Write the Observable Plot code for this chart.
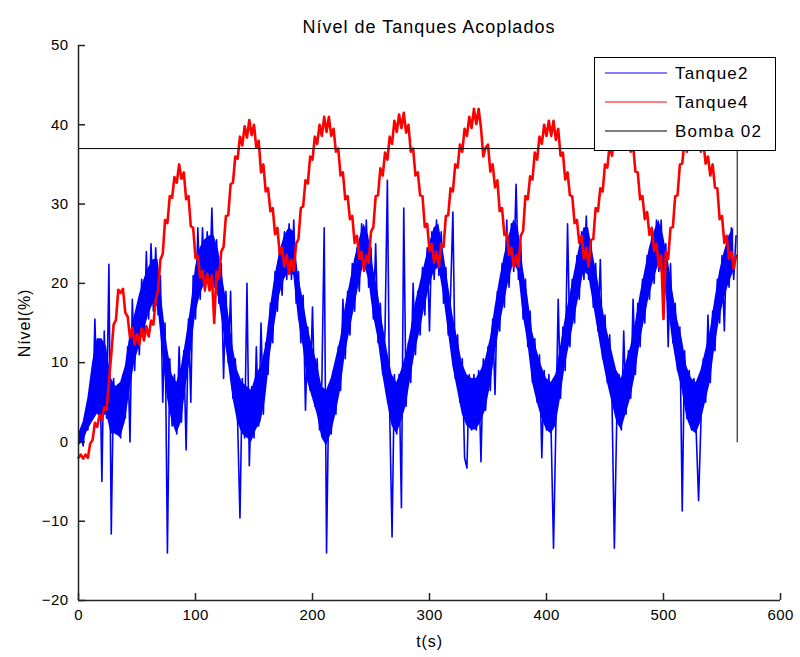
<!DOCTYPE html>
<html>
<head>
<meta charset="utf-8">
<script src="https://cdn.jsdelivr.net/npm/d3@7"></script>
<script src="https://cdn.jsdelivr.net/npm/@observablehq/plot@0.6"></script>
<style>
  body { margin: 0; background: #fff; width: 800px; height: 657px; position: relative; overflow: hidden; }
  #titulo { height: 35px; box-sizing: border-box; padding-top: 17px; padding-left: 78px; width: 780px;
            text-align: center; font: 18px "Liberation Sans", Arial, sans-serif; letter-spacing: 1px; line-height: 20px; color: #000; }
  #legenda { position: absolute; left: 594px; top: 57px; }
</style>
</head>
<body>
<div id="titulo">Nível de Tanques Acoplados</div>
<div id="grafico"></div>
<svg id="legenda" width="182" height="94"></svg>
<script>
// Sampling interval of the recorded series (seconds)
const passo = 2;

// Level of tank 2 (%), one sample every 2 s from t = 0
const tanque2 = [
  0, 1, -0.5, 3, 1.5, 7, 3, 15.5, 5, 12,
  -5, 14, 3, 22.4, -11.6, 8, 1, 7, 0.5, 8.5,
  3, 12, 0, 18, 9, 17, 11, 20.5, 13, 24,
  15.5, 25, 16.5, 24.5, 16, 21, 5, 15, -14, 10.5,
  2, 8.5, 1, 12, 2.5, 11.5, -1, 15.5, 5, 21,
  15.5, 27, 18, 27, 19, 26.5, 19.5, 29.5, 19.5, 25.5,
  17.5, 22.5, 8, 19, 10, 19, 5.5, 10.5, 2.5, -9.6,
  8, 0.5, 20, -3, 7, 0.5, 12, 2, 15, 3.5,
  12.5, 8.5, 17.5, 12.5, 21.5, 16.5, 24.5, 18.5, 26.5, 20.5,
  27.5, 20.5, 28, 17.5, 21.5, 12.5, 18.5, 4, 14.5, 6.5,
  17, 4.5, 10.5, 1.5, 7.5, 27, -14, 7, 1, 9,
  3.5, 12, 6.5, 18, 10.5, 19, 13.5, 22.5, 16.5, 24.5,
  19, 27.5, 21.5, 28, 19.5, 24.5, 15.5, 25, 12.5, 17.5,
  8.5, 14, 33, 3.5, -12, 8.5, 1, 8.5, -8.3, 29.5,
  4.5, 12.5, 7.5, 20, 11, 19, 13.5, 22, 16, 24.5,
  14, 26.5, 20.5, 28, 21, 26.5, 17.5, 22, 13.5, 18.5,
  29, 8, 13.5, 5, 10.5, -2, -3.3, 8.5, 1.5, 8.5,
  1.5, 9, -2.5, 10.5, 4, 12, 6.5, 15.5, 6, 19,
  14, 22.5, 17, 28, 19.5, 27.5, 21.5, 32.5, 20.5, 25,
  15.5, 20.5, 12, 16.5, 7.5, 13, 5, 11, -2, 9,
  1.5, 8.5, 1, -13.4, 2, 18, 5.5, 14.5, 9, 27.5,
  12, 20.5, 15, 23.5, 18, 26.5, 20.5, 28.5, 20.5, 25.5,
  17, 22.5, 14, 23, 10.5, 16, 7.5, 13.5, 5, -13.4,
  2.5, 8.5, 1.5, 14, 3.5, 11.5, 5.5, 18, 8.5, 17.5,
  12, 20.5, 15, 23.5, 18, 26, 20, 28, 21.5, 28,
  19.5, 25, 12, 22.5, 12.5, 17.5, 9, 14.5, -8.7, 11.5,
  3, 9, 1.5, 8, 1, -7.4, 2.5, 10.5, 5, 16,
  7.5, 16.5, 11.5, 20.5, 15, 23.5, 14, 25.5, 19.5, 27,
  20.5, 26
];

// Dense core of the tank 2 trace: lower and upper edge every 4 s
const passoNucleo = 4;
const tanque2Min = [
  -0.5, 0, 1.5, 2.5, 3.5, 3, 3.5, 1, 1, 0.5,
  2.5, 6.5, 10, 12, 14, 16, 17.5, 17, 11, 5.5,
  2.5, 1, 2.5, 7, 11, 16, 18.5, 20, 20.5, 20,
  18, 14, 10, 5.5, 2.5, 1, 0.5, 0, 1.5, 2.5,
  5.5, 11, 15, 18.5, 20.5, 21.5, 21, 15.5, 12, 7.5,
  5.5, 3.5, 0.5, -0.5, 1, 3.5, 6.5, 11, 14, 17,
  20, 22.5, 20.5, 16, 13, 8.5, 5, 2, 1, 2.5,
  4.5, 8, 11.5, 14, 17, 19.5, 21.5, 22, 18.5, 14,
  9.5, 6.5, 3.5, 2, 1.5, 1.5, 2.5, 4, 7, 11,
  14.5, 17.5, 20.5, 22.5, 21.5, 16, 12.5, 7.5, 5, 3,
  1.5, 1, 2, 5.5, 9.5, 12.5, 15.5, 18.5, 21.5, 21,
  17.5, 14, 10.5, 7.5, 5, 2.5, 1.5, 3.5, 5.5, 8.5,
  12.5, 15.5, 18.5, 20.5, 22.5, 20.5, 17, 12.5, 9, 6.5,
  3, 1.5, 1, 2.5, 5, 7.5, 12, 15.5, 18, 20,
  21.5
];
const tanque2Max = [
  1, 2.5, 5.5, 10, 13, 13, 12, 8, 7, 7.5,
  9.5, 13.5, 16, 18.5, 20.5, 22, 23, 23, 17, 12,
  8.5, 7.5, 9.5, 13, 17, 22, 24.5, 25.5, 26, 26,
  24, 20, 16.5, 12, 9, 7.5, 7, 6.5, 8.5, 9.5,
  12, 17, 21, 24, 26, 27, 26.5, 21, 18, 14.5,
  12, 10, 7, 6.5, 8, 10.5, 13, 17, 20, 23,
  25.5, 27.5, 26, 22, 19, 15, 11.5, 8.5, 7.5, 9,
  11, 14, 17.5, 20, 22.5, 25, 27, 27.5, 24, 20,
  16, 13, 10, 8.5, 8, 8, 9, 10.5, 13, 17,
  20.5, 23.5, 26, 28, 27, 22, 18.5, 14, 11.5, 9.5,
  8, 7.5, 8.5, 12, 15.5, 18.5, 21.5, 24.5, 27, 27,
  23.5, 20.5, 17, 14, 11.5, 9, 8, 10, 12, 15,
  18.5, 21.5, 24.5, 26.5, 28, 26, 23, 19, 15.5, 13,
  9.5, 8, 7.5, 9, 11.5, 14, 18, 21.5, 24, 26,
  27
];

// Level of tank 4 (%), one sample every 2 s
const tanque4 = [
  -2, -1.6, -2.1, -1.6, -2, -0.2, 0.2, 2.4, 1.9, 3.4,
  2.8, 4.4, 4, 7.6, 11, 14.8, 15.4, 19.2, 18.8, 19.3,
  16.3, 15.8, 13.2, 14.4, 12.3, 13.6, 12.3, 14.3, 12.8, 14.6,
  13.3, 15.3, 14.8, 17.9, 19.2, 23, 23.7, 28, 27.6, 31,
  30.8, 33.4, 32.7, 35, 33.2, 34, 30.6, 31, 27.2, 27,
  23.2, 23.5, 20.7, 21.6, 19.2, 21.2, 19.1, 21, 15, 21.5,
  20.6, 24, 24.6, 28.5, 28.6, 32.5, 32.7, 36, 35.7, 38.5,
  37.4, 39.8, 38.4, 40.6, 38.7, 40, 37.1, 38, 34, 35,
  31.6, 32, 29.1, 29.5, 26.2, 27, 23.7, 24.5, 22.1, 23.6,
  21.2, 23, 21.6, 25, 25.6, 29.5, 29.7, 33, 32.6, 36,
  35.6, 38.5, 37.6, 40, 38.6, 41, 39.1, 41, 38.6, 39.5,
  36.6, 37, 33.6, 34, 30.6, 31, 28.1, 28.5, 25.1, 26,
  23.1, 24, 21.6, 23.5, 22.6, 26.5, 27.1, 31, 31.1, 34.5,
  33.6, 36.5, 35.6, 38.5, 37.6, 40.5, 39.1, 41.3, 39.6, 41.5,
  39, 40, 36.6, 37, 33.6, 34, 31.1, 31, 27.1, 27.5,
  24.1, 25, 22.6, 24, 22.1, 25, 24.6, 28.5, 28.6, 32,
  31.6, 35, 34.6, 37.5, 36.6, 39.5, 38.6, 41, 39.6, 42,
  40.1, 42, 39.6, 36, 37.1, 37.5, 34.1, 35, 32.1, 33,
  29.1, 29.5, 26.1, 26.5, 23.6, 24.5, 22.1, 23.5, 22.1, 26,
  26.6, 31, 30.6, 33.5, 33.1, 36.5, 35.6, 38.5, 37.6, 40,
  38.6, 40.5, 38.6, 40.5, 38.1, 39.5, 36.1, 36.5, 33.1, 34,
  31.1, 31, 27.6, 28, 25.1, 26, 23.1, 24.5, 22.1, 25.5,
  25.6, 29.5, 29.1, 32, 31.6, 35, 34.6, 37.5, 36.1, 38.5,
  37.1, 39, 37.1, 39.2, 37.3, 39, 36.6, 37.5, 34.1, 34,
  30.6, 31, 28.1, 29, 26.1, 27, 24.1, 25, 22.1, 23.5,
  15.5, 24, 23.1, 27, 27.1, 31, 31.1, 35, 35.1, 38,
  36.6, 39, 37.6, 39.5, 37.6, 39, 36.6, 38, 35.1, 36,
  33.6, 35, 32.1, 32, 28.1, 28.5, 25.1, 26, 23.1, 24,
  21.8, 23.5
];

// Pump 02 command: held at 37 % and switched off at the end of the run
const bombaT = [0, 563, 563];
const bombaV = [37, 37, 0];

// Axis ticks and series names
const xTicks = [0, 100, 200, 300, 400, 500, 600];
const yTicks = [-20, -10, 0, 10, 20, 30, 40, 50];
const series = [
  {nome: "Tanque2", cor: "#0000ff"},
  {nome: "Tanque4", cor: "#ff0000"},
  {nome: "Bomba 02", cor: "#000000"}
];

const linhas2 = tanque2.map((v, i) => ({t: i * passo, v}));
const nucleo2 = tanque2Min.map((lo, i) => ({t: i * passoNucleo, lo, hi: tanque2Max[i]}));
const linhas4 = tanque4.map((v, i) => ({t: i * passo, v}));
const bomba = bombaT.map((t, i) => ({t, v: bombaV[i]}));

const fonte = '"Liberation Sans", Arial, sans-serif';
const W = 800, H = 622, mL = 78, mR = 20, mT = 10, mB = 57, tick = 7;
const xDom = [0, 600], yDom = [-20, 50];
// tick length expressed in data units of each axis
const tickX = tick * (yDom[1] - yDom[0]) / (H - mT - mB);
const tickY = tick * (xDom[1] - xDom[0]) / (W - mL - mR);
const corEixo = "#222";

const chart = Plot.plot({
  width: W,
  height: H,
  marginLeft: mL,
  marginRight: mR,
  marginTop: mT,
  marginBottom: mB,
  style: {fontFamily: fonte, fontSize: "15px", color: "#000", background: "#fff", overflow: "visible"},
  x: {domain: xDom},
  y: {domain: yDom},
  marks: [
    Plot.areaY(nucleo2, {x: "t", y1: "lo", y2: "hi", fill: series[0].cor}),
    Plot.lineY(linhas2, {x: "t", y: "v", stroke: series[0].cor, strokeWidth: 1.6}),
    Plot.lineY(linhas4, {x: "t", y: "v", stroke: series[1].cor, strokeWidth: 2.6}),
    Plot.line(bomba, {x: "t", y: "v", stroke: series[2].cor, strokeWidth: 1}),
    // axis lines
    Plot.ruleX([xDom[0]], {stroke: corEixo, strokeWidth: 1.5}),
    Plot.ruleY([yDom[0]], {stroke: corEixo, strokeWidth: 1.5}),
    // inward tick marks
    Plot.ruleX(xTicks, {x: d => d, y1: yDom[0], y2: yDom[0] + tickX, stroke: corEixo, strokeWidth: 1.5}),
    Plot.ruleY(yTicks, {y: d => d, x1: xDom[0], x2: xDom[0] + tickY, stroke: corEixo, strokeWidth: 1.5}),
    // tick labels and titles
    Plot.axisX({ticks: xTicks, tickSize: 0, tickPadding: 9, label: "t(s)", labelAnchor: "center", labelOffset: 46, labelArrow: "none"}),
    Plot.axisY({ticks: yTicks, tickSize: 0, tickPadding: 10, label: "Nível(%)", labelAnchor: "center", labelOffset: 60, labelArrow: "none"})
  ]
});
document.getElementById("grafico").appendChild(chart);

// Axis-label typography
chart.querySelectorAll('[aria-label="x-axis label"] text, [aria-label="y-axis label"] text').forEach(el => {
  el.style.fontSize = "16px";
  el.style.letterSpacing = "0.9px";
});
chart.querySelectorAll('[aria-label="x-axis tick label"] text, [aria-label="y-axis tick label"] text').forEach(el => {
  el.style.letterSpacing = "0.4px";
});

// Legend box in the upper right corner of the axes
const leg = d3.select("#legenda");
leg.append("rect").attr("x", 0.5).attr("y", 0.5).attr("width", 181).attr("height", 93)
  .attr("fill", "#fff").attr("stroke", "#000");
series.forEach((s, i) => {
  const y = 16 + i * 29;
  leg.append("line").attr("x1", 11).attr("x2", 73).attr("y1", y).attr("y2", y)
    .attr("stroke", s.cor).attr("stroke-width", 1);
  leg.append("text").attr("x", 81).attr("y", y).attr("dy", "0.36em")
    .attr("font-family", fonte).attr("font-size", 17).attr("letter-spacing", "1.2px")
    .text(s.nome);
});
</script>
</body>
</html>
